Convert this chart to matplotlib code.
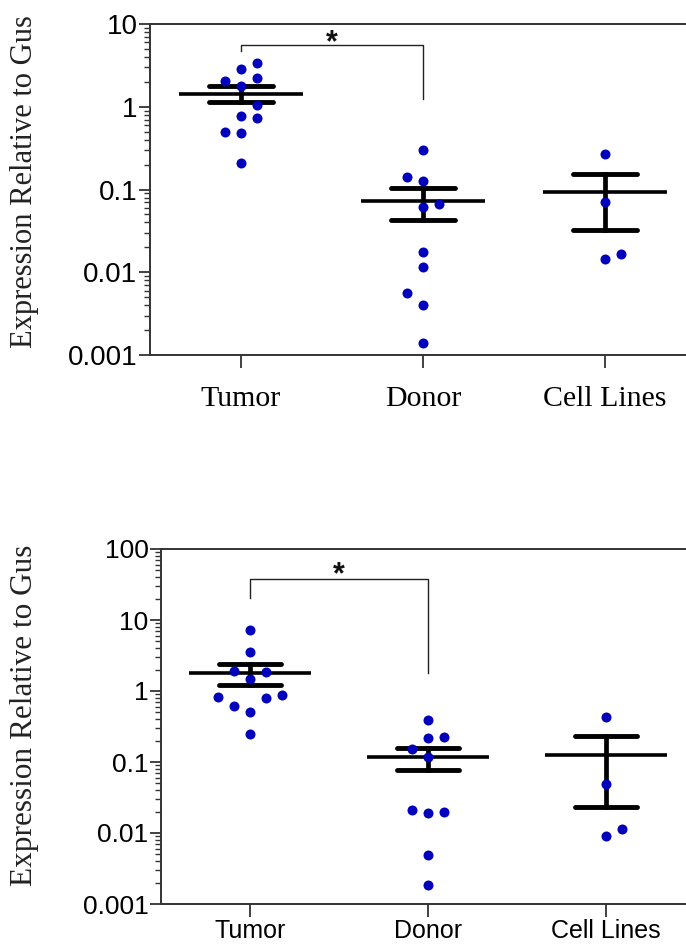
import matplotlib
matplotlib.use("Agg")
import matplotlib.pyplot as plt
import numpy as np

# ---------------- data ----------------
categories = ["Tumor", "Donor", "Cell Lines"]

# top panel
top_tumor = [3.38, 2.86, 2.02, 2.22, 1.79, 1.06, 0.78, 0.73, 0.50, 0.48, 0.21]
top_donor = [0.30, 0.141, 0.125, 0.061, 0.067, 0.0178, 0.0117, 0.0056, 0.0040, 0.0014]
top_cells = [0.270, 0.0697, 0.0144, 0.0167]
top_mean = [1.44, 0.0736, 0.092]
top_sem_hi = [1.76, 0.103, 0.153]
top_sem_lo = [1.13, 0.043, 0.0326]

# bottom panel
bot_tumor = [7.16, 3.59, 1.91, 1.85, 1.46, 0.82, 0.79, 0.87, 0.615, 0.51, 0.245]
bot_donor = [0.386, 0.221, 0.228, 0.154, 0.119, 0.0209, 0.0194, 0.020, 0.0049, 0.00186]
bot_cells = [0.436, 0.0497, 0.0091, 0.0113]
bot_mean = [1.78, 0.116, 0.126]
bot_sem_hi = [2.43, 0.156, 0.232]
bot_sem_lo = [1.22, 0.077, 0.0235]

top_ticks = [0.001, 0.01, 0.1, 1, 10]
top_ticklabels = ["0.001", "0.01", "0.1", "1", "10"]
bot_ticks = [0.001, 0.01, 0.1, 1, 10, 100]
bot_ticklabels = ["0.001", "0.01", "0.1", "1", "10", "100"]

ylabel = "Expression Relative to Gus"

# ---------------- layout / style (jitter steps for dot placement) ----------------
top_jitter = [
    [1, 0, -1, 1, 0, 1, 0, 1, -1, 0, 0],
    [0, -1, 0, 0, 1, 0, 0, -1, 0, 0],
    [0, 0, 0, 1],
]
bot_jitter = [
    [0, 0, -1, 1, 0, -2, 1, 2, -1, 0, 0],
    [0, 0, 1, -1, 0, -1, 0, 1, 0, 0],
    [0, 0, 0, 1],
]
JSTEP = 0.09
DOT = "#0000bd"
SPINE = "#333333"
SERIF = ["Liberation Serif", "DejaVu Serif"]
SANS = ["Liberation Sans", "DejaVu Sans"]

W, H = 686, 944
fig = plt.figure(figsize=(W / 100, H / 100), dpi=100)


def px_axes(left, top, right, bottom):
    return fig.add_axes([left / W, 1 - bottom / H, (right - left) / W, (bottom - top) / H])


def draw_panel(ax, groups, jitter, means, hi, lo, ticks, ticklabels, ylim,
               xlab_family, xlab_size, xlab_pad, tick_size, bracket, star_y):
    ax.set_yscale("log")
    ax.set_ylim(*ylim)
    ax.set_xlim(-0.5, 2.5)
    for i, (vals, jit) in enumerate(zip(groups, jitter)):
        xs = [i + j * JSTEP for j in jit]
        ax.plot(xs, vals, "o", ms=7.2, color=DOT, mec="none", zorder=4, clip_on=False)
        # mean line
        ax.plot([i - 0.34, i + 0.34], [means[i], means[i]], color="black", lw=2.6,
                solid_capstyle="butt", zorder=3)
        # sem bar
        ax.plot([i, i], [lo[i], hi[i]], color="black", lw=3.4, zorder=3)
        for v in (lo[i], hi[i]):
            ax.plot([i - 0.175, i + 0.175], [v, v], color="black", lw=3.5,
                    solid_capstyle="round", zorder=3)
    # significance bracket
    b_y, b_left_end, b_right_end = bracket
    ax.plot([0, 0, 1, 1], [b_left_end, b_y, b_y, b_right_end], color="#222222", lw=1.0,
            zorder=2)
    ax.text(0.5, star_y, "*", ha="center", va="baseline", fontsize=22, fontweight="bold",
            family=SANS, color="#111111")

    ax.set_xticks(range(len(categories)))
    ax.set_xticklabels(categories, family=xlab_family, fontsize=xlab_size)
    ax.tick_params(axis="x", length=9, width=1.3, color=SPINE, pad=xlab_pad)
    ax.set_yticks(ticks)
    ax.set_yticklabels(ticklabels, family=SANS, fontsize=tick_size)
    ax.yaxis.set_minor_locator(matplotlib.ticker.LogLocator(base=10, subs=np.arange(2, 10)))
    ax.yaxis.set_minor_formatter(matplotlib.ticker.NullFormatter())
    ax.tick_params(axis="y", which="major", length=8, width=1.3, color=SPINE, pad=1)
    ax.tick_params(axis="y", which="minor", length=4, width=1.0, color=SPINE)
    for s in ax.spines.values():
        s.set_color(SPINE)
        s.set_linewidth(1.4)


ax1 = px_axes(150, 24, 696, 355)
draw_panel(ax1, [top_tumor, top_donor, top_cells], top_jitter, top_mean, top_sem_hi,
           top_sem_lo, top_ticks, top_ticklabels, (0.001, 10),
           SERIF, 21.5, 13, 20, (5.6, 4.7, 1.25), 4.7)

ax2 = px_axes(161, 549, 695, 904)
draw_panel(ax2, [bot_tumor, bot_donor, bot_cells], bot_jitter, bot_mean, bot_sem_hi,
           bot_sem_lo, bot_ticks, bot_ticklabels, (0.001, 100),
           SANS, 18, 1.5, 19, (38, 20.5, 1.8), 33)

fig.text(25 / W, 1 - 182 / H, ylabel, rotation=90, ha="center", va="center",
         family=SERIF, fontsize=22, color="#222222")
fig.text(25 / W, 1 - 715 / H, ylabel, rotation=90, ha="center", va="center",
         family=SERIF, fontsize=22.5, color="#222222")

fig.savefig("out.png", dpi=100)
